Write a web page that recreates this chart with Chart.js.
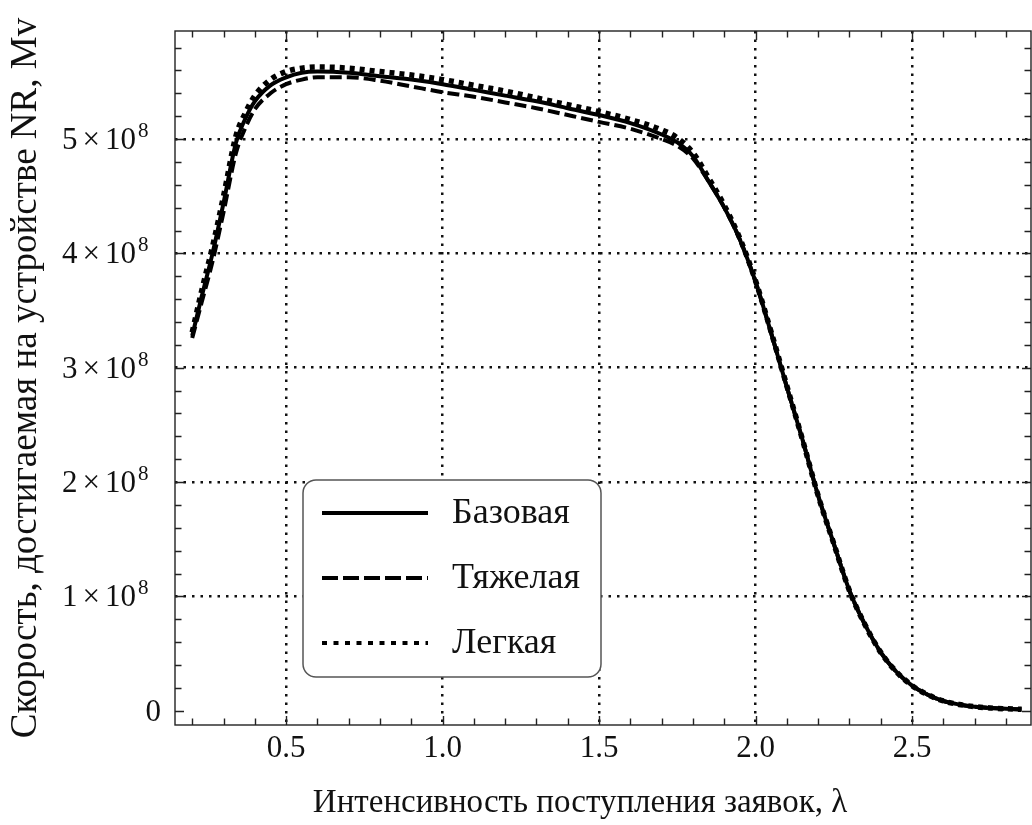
<!DOCTYPE html>
<html>
<head>
<meta charset="utf-8">
<script src="https://cdn.jsdelivr.net/npm/chart.js@4.4.1/dist/chart.umd.min.js"></script>
<style>
  html, body { margin: 0; padding: 0; background: #fff; }
  #wrap { width: 1032px; height: 825px; }
</style>
</head>
<body>
<div id="wrap"><canvas id="speedChart" width="1032" height="825"></canvas></div>
<script>
// arrival intensity of requests, lambda
var lambda = [0.2, 0.23, 0.265, 0.3, 0.34, 0.37, 0.4, 0.45, 0.5, 0.55, 0.6, 0.7, 0.8, 0.9, 1.0,
  1.1, 1.2, 1.3, 1.4, 1.5, 1.6, 1.7, 1.75, 1.8, 1.85, 1.9, 1.95, 2.0, 2.05, 2.1,
  2.15, 2.2, 2.25, 2.3, 2.35, 2.4, 2.45, 2.5, 2.55, 2.6, 2.65, 2.7, 2.75, 2.8, 2.85];

// speed reached on the NR device, in units of 10^8
var baseSpeed = [3.28, 3.62, 4.00, 4.44, 4.97, 5.18, 5.33, 5.47, 5.54, 5.58, 5.59, 5.58, 5.55, 5.52, 5.48,
  5.43, 5.38, 5.33, 5.27, 5.21, 5.14, 5.04, 4.97, 4.85, 4.63, 4.40, 4.12, 3.75, 3.30, 2.83,
  2.37, 1.88, 1.46, 1.05, 0.75, 0.51, 0.34, 0.22, 0.14, 0.085, 0.055, 0.035, 0.024, 0.017, 0.012];
var heavySpeed = [3.26, 3.57, 3.93, 4.36, 4.88, 5.10, 5.26, 5.40, 5.48, 5.52, 5.54, 5.54, 5.51, 5.46, 5.41,
  5.37, 5.32, 5.27, 5.21, 5.15, 5.09, 5.00, 4.94, 4.83, 4.63, 4.40, 4.12, 3.75, 3.30, 2.83,
  2.37, 1.88, 1.46, 1.05, 0.75, 0.51, 0.34, 0.22, 0.14, 0.085, 0.055, 0.035, 0.024, 0.017, 0.012];
var lightSpeed = [3.31, 3.67, 4.06, 4.50, 5.03, 5.23, 5.38, 5.52, 5.59, 5.62, 5.63, 5.62, 5.59, 5.56, 5.52,
  5.47, 5.42, 5.36, 5.30, 5.24, 5.17, 5.08, 5.01, 4.88, 4.66, 4.42, 4.13, 3.76, 3.31, 2.84,
  2.37, 1.88, 1.46, 1.05, 0.75, 0.51, 0.34, 0.22, 0.14, 0.085, 0.055, 0.035, 0.024, 0.017, 0.012];

var seriesNames = ['Базовая', 'Тяжелая', 'Легкая'];
var xTickValues = [0.5, 1.0, 1.5, 2.0, 2.5];
var yTickValues = [0, 1, 2, 3, 4, 5];
var xTitle = 'Интенсивность поступления заявок, λ';
var yTitle = 'Скорость, достигаемая на устройстве NR, Mv';

var serif = '"Liberation Serif", "Times New Roman", serif';
var ink = '#111';

function toPoints(values) {
  var pts = [];
  for (var i = 0; i < lambda.length; i++) {
    pts.push({ x: lambda[i], y: values[i] });
  }
  return pts;
}

// inward ticks on all four sides of the frame, plus the frame itself
var frameTicks = {
  id: 'frameTicks',
  afterDatasetsDraw: function(chart) {
    var ctx = chart.ctx, a = chart.chartArea;
    var xs = chart.scales.x, ys = chart.scales.y;
    var k, v, p, len;
    ctx.save();
    ctx.strokeStyle = '#222';
    ctx.lineWidth = 1.4;
    ctx.beginPath();
    for (k = 1; k <= 29; k++) {
      v = k / 10;
      if (v <= xs.min || v >= xs.max) continue;
      len = (k % 5 === 0) ? 9 : 6.5;
      p = Math.round(xs.getPixelForValue(v)) + 0.5;
      ctx.moveTo(p, a.bottom); ctx.lineTo(p, a.bottom - len);
      ctx.moveTo(p, a.top); ctx.lineTo(p, a.top + len);
    }
    for (k = 0; k <= 29; k++) {
      v = k / 5;
      if (v <= ys.min || v >= ys.max) continue;
      len = (k % 5 === 0) ? 9 : 6.5;
      p = Math.round(ys.getPixelForValue(v)) + 0.5;
      ctx.moveTo(a.left, p); ctx.lineTo(a.left + len, p);
      ctx.moveTo(a.right, p); ctx.lineTo(a.right - len, p);
    }
    ctx.stroke();
    ctx.strokeRect(a.left, a.top, a.right - a.left, a.bottom - a.top);
    ctx.restore();
  }
};

// y tick labels as "n × 10" with a raised 8
var yTickLabels = {
  id: 'yTickLabels',
  afterDraw: function(chart) {
    var ctx = chart.ctx, ys = chart.scales.y;
    ctx.save();
    ctx.fillStyle = ink;
    ctx.textBaseline = 'alphabetic';
    ctx.textAlign = 'left';
    yTickValues.forEach(function(v) {
      var py = ys.getPixelForValue(v);
      var base = py + 10;
      ctx.font = '31px ' + serif;
      if (v === 0) {
        ctx.textAlign = 'right';
        ctx.fillText('0', 161, base);
        ctx.textAlign = 'left';
        return;
      }
      var head = v + '', times = '×', ten = '10';
      var x = 62;
      ctx.fillText(head, x, base);
      x += ctx.measureText(head).width + 5;
      ctx.fillText(times, x, base);
      x += ctx.measureText(times).width + 5;
      ctx.fillText(ten, x, base);
      x += ctx.measureText(ten).width + 2;
      ctx.font = '21px ' + serif;
      ctx.fillText('8', x, base - 12);
    });
    ctx.restore();
  }
};

// rounded legend box inside the plot
var boxLegend = {
  id: 'boxLegend',
  afterDraw: function(chart) {
    var ctx = chart.ctx;
    var x = 303, y = 480, w = 298, h = 197, r = 13;
    ctx.save();
    ctx.beginPath();
    ctx.moveTo(x + r, y);
    ctx.arcTo(x + w, y, x + w, y + h, r);
    ctx.arcTo(x + w, y + h, x, y + h, r);
    ctx.arcTo(x, y + h, x, y, r);
    ctx.arcTo(x, y, x + w, y, r);
    ctx.closePath();
    ctx.fillStyle = '#fff';
    ctx.fill();
    ctx.strokeStyle = '#555';
    ctx.lineWidth = 1.5;
    ctx.stroke();

    ctx.font = '36px ' + serif;
    ctx.textBaseline = 'middle';
    ctx.textAlign = 'left';
    chart.data.datasets.forEach(function(ds, i) {
      var cy = 513 + i * 65;
      ctx.strokeStyle = ds.borderColor;
      ctx.lineWidth = 4;
      ctx.setLineDash(ds.legendDash || []);
      ctx.beginPath();
      ctx.moveTo(322, cy);
      ctx.lineTo(428, cy);
      ctx.stroke();
      ctx.setLineDash([]);
      ctx.fillStyle = ink;
      ctx.fillText(ds.label, 452, cy + 1);
    });
    ctx.restore();
  }
};

// axis titles, drawn by hand so the long vertical one is not squeezed
var axisTitles = {
  id: 'axisTitles',
  afterDraw: function(chart) {
    var ctx = chart.ctx, a = chart.chartArea;
    ctx.save();
    ctx.fillStyle = ink;
    ctx.textAlign = 'center';
    ctx.textBaseline = 'middle';
    ctx.font = '33px ' + serif;
    ctx.fillText(xTitle, 580, 803);
    ctx.translate(26, (a.top + a.bottom) / 2);
    ctx.rotate(-Math.PI / 2);
    ctx.font = '37px ' + serif;
    ctx.fillText(yTitle, 0, 0);
    ctx.restore();
  }
};

new Chart(document.getElementById('speedChart'), {
  type: 'line',
  data: {
    datasets: [
      {
        label: seriesNames[0],
        data: toPoints(baseSpeed),
        borderColor: '#000',
        borderWidth: 4,
        legendDash: []
      },
      {
        label: seriesNames[1],
        data: toPoints(heavySpeed),
        borderColor: '#000',
        borderWidth: 4,
        borderDash: [12, 5],
        legendDash: [16, 5]
      },
      {
        label: seriesNames[2],
        data: toPoints(lightSpeed),
        borderColor: '#000',
        borderWidth: 5.5,
        borderDash: [5, 5],
        legendDash: [5, 6.5]
      }
    ]
  },
  options: {
    responsive: false,
    animation: false,
    devicePixelRatio: 1,
    layout: { padding: { top: 31, right: 1, left: 0, bottom: 0 } },
    elements: {
      point: { radius: 0 },
      line: { cubicInterpolationMode: 'monotone', borderCapStyle: 'butt' }
    },
    plugins: {
      legend: { display: false },
      tooltip: { enabled: false }
    },
    scales: {
      x: {
        type: 'linear',
        min: 0.145,
        max: 2.88,
        afterBuildTicks: function(s) { s.ticks = xTickValues.map(function(v) { return { value: v }; }); },
        afterFit: function(s) { s.height = 100; },
        grid: { color: '#111', lineWidth: 2.5, drawTicks: false },
        border: { display: false, dash: [2.5, 6] },
        ticks: {
          padding: 5,
          color: ink,
          maxRotation: 0,
          autoSkip: false,
          font: { family: serif, size: 31 },
          callback: function(v) { return v.toFixed(1); }
        }
      },
      y: {
        type: 'linear',
        min: -0.125,
        max: 5.945,
        afterBuildTicks: function(s) { s.ticks = yTickValues.map(function(v) { return { value: v }; }); },
        afterFit: function(s) { s.width = 175; },
        grid: {
          lineWidth: 2.5,
          drawTicks: false,
          color: function(c) { return c.tick && c.tick.value === 0 ? 'rgba(0,0,0,0)' : '#111'; }
        },
        border: { display: false, dash: [2.5, 6] },
        ticks: { display: false }
      }
    }
  },
  plugins: [frameTicks, yTickLabels, boxLegend, axisTitles]
});
</script>
</body>
</html>
